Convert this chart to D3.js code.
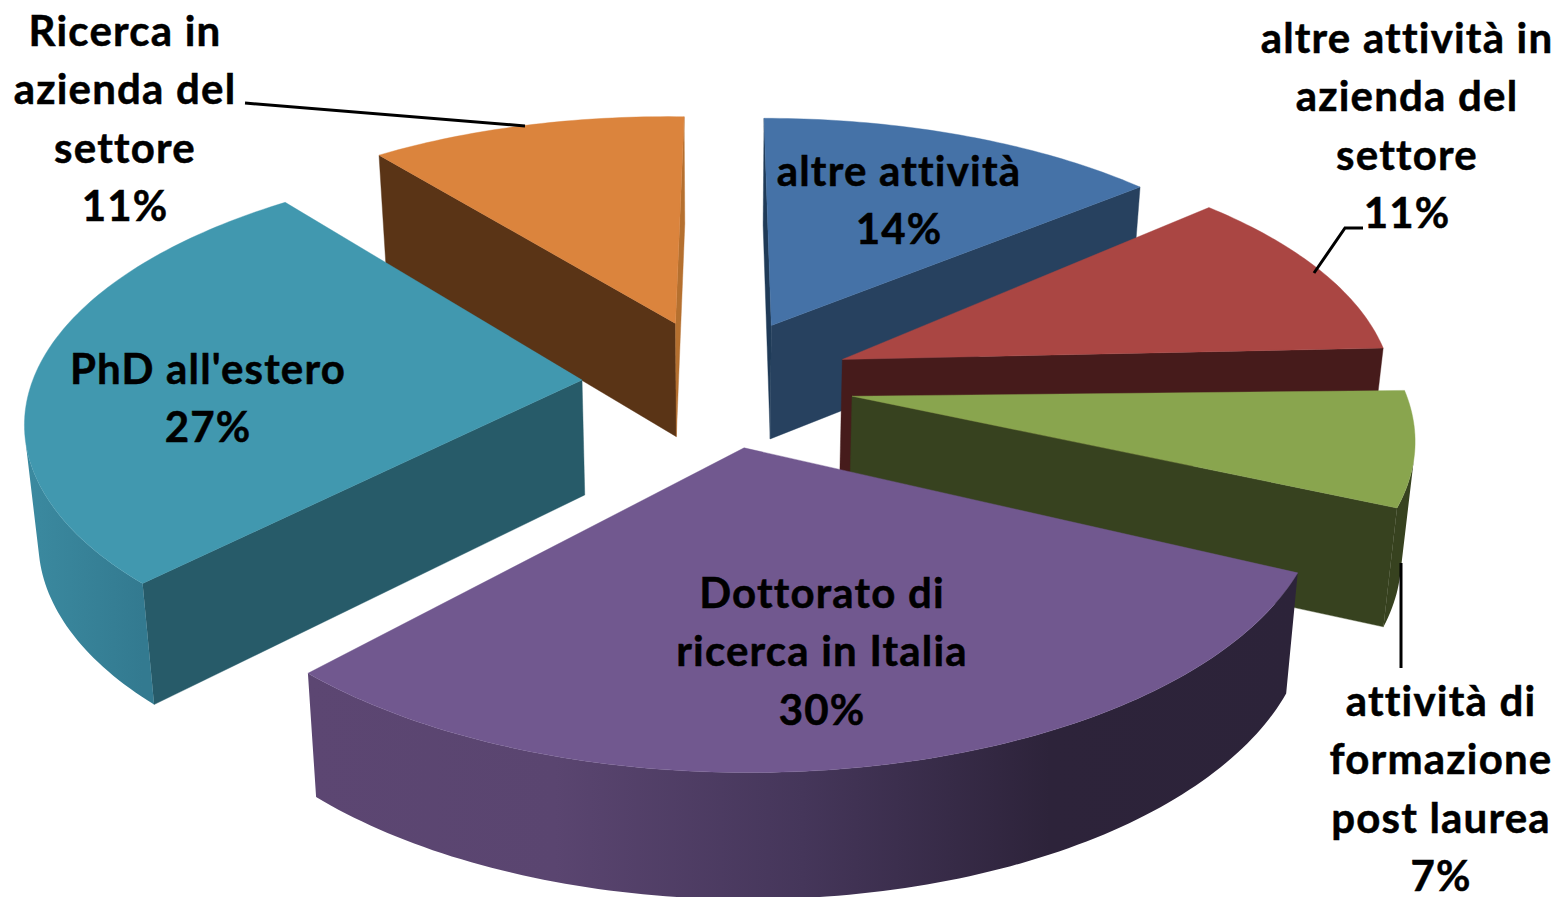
<!DOCTYPE html>
<html><head><meta charset="utf-8">
<script src="https://cdn.jsdelivr.net/npm/d3@7/dist/d3.min.js"></script>
<style>html,body{margin:0;padding:0;background:#fff;overflow:hidden}svg{display:block}</style>
</head><body><svg id="c" width="1560" height="897"></svg>
<script>
// data
const categories = [
  ["altre attività"],
  ["altre attività in","azienda del","settore"],
  ["attività di","formazione","post laurea"],
  ["Dottorato di","ricerca in Italia"],
  ["PhD all'estero"],
  ["Ricerca in","azienda del","settore"]
];
const values = [14, 11, 7, 30, 27, 11];
// styles
const topColors  = ["#4572A7","#AA4643","#89A54E","#71588F","#4198AF","#DB843D"];
const startWall  = ["#1F3A57","#461B1B","#37421F","#5C4672","#275B69","#5A3416"];
const endWall    = ["#27415F","#461B1B","#37421F","#2C2339","#275B69","#B5702F"];
const rimStops   = [
  ["#27415F","#27415F"],["#461B1B","#461B1B"],["#37421F","#37421F"],
  ["#5C4672","#5A4570","#45365A","#2D233A","#2C2339"],
  ["#3B8AA0","#337A90"],["#B5702F","#B5702F"]
];
const drawOrder = [5,0,1,2,4,3];
// layout
const labelPos = [[899,186],[1407,53],[1441,716],[822,608],[208,384],[125,46]];
const lineH = 58.4;
const leaders = [
  [[245,103],[525,126]],
  [[1363,228],[1345,228],[1314,273]],
  [[1401,563],[1401,668]]
];
const cx=718, cy=381, B=548, A=254, persp=0.15, explode=0.254;
const bx=0.98, dropY=115, dropK=0.03;
// small per-slice screen adjustments of the exploded pieces: [dx, dy, roll in degrees]
const sliceNudge = [[-4,1,0],[-5,0,-1.2],[-3,1,-0.6],[-1,1,0],[3,1,0.5],[3,1,0.8]];

const project = ([X,Y]) => { const s=1/(1-persp*Y); return [cx+B*X*s, cy+A*Y*s]; };
const lower = ([x,y]) => [cx+(x-cx)*bx, y+dropY+dropK*(y-cy)];
const quadArea = (a,b) => d3.polygonArea([a,b,lower(b),lower(a)]);
const line = d3.line();

const svg = d3.select("#c");
const defs = svg.append("defs");
const gChart = svg.append("g");
const arcs = d3.pie().sort(null).value(d=>d)(values);

function geom(d,i){
  const mid=(d.startAngle+d.endAngle)/2;
  const o=[explode*Math.sin(mid), -explode*Math.cos(mid)];
  const n=Math.max(2,Math.ceil((d.endAngle-d.startAngle)/(Math.PI/180)));
  const a0=project(o), [dx,dy,roll]=sliceNudge[i], r=roll*Math.PI/180;
  const adj=([x,y])=>{
    const u=x-a0[0], v=y-a0[1];
    return [a0[0]+dx+u*Math.cos(r)-v*Math.sin(r), a0[1]+dy+u*Math.sin(r)+v*Math.cos(r)];
  };
  const rim=d3.range(n+1).map(k=>{
    const t=d.startAngle+(d.endAngle-d.startAngle)*k/n;
    return adj(project([o[0]+Math.sin(t), o[1]-Math.cos(t)]));
  });
  return {apex:adj(a0), rim};
}
const geoms = arcs.map(geom);

drawOrder.forEach(i=>{
  const g=geoms[i], G=gChart.append("g");
  const wall=(a,b,col)=>{
    if(quadArea(a,b)>0) G.append("path").attr("d",line([a,b,lower(b),lower(a)])+"Z").attr("fill",col).attr("stroke",col).attr("stroke-width",0.4);
  };
  wall(g.apex,g.rim[0],startWall[i]);
  let run=[];
  const runs=[];
  for(let k=0;k<g.rim.length-1;k++){
    if(quadArea(g.rim[k],g.rim[k+1])>0){ if(!run.length) run.push(g.rim[k]); run.push(g.rim[k+1]); }
    else if(run.length){ runs.push(run); run=[]; }
  }
  if(run.length) runs.push(run);
  runs.forEach((r,j)=>{
    const xs=r.map(p=>p[0]), id=`rim${i}_${j}`;
    const lg=defs.append("linearGradient").attr("id",id).attr("gradientUnits","userSpaceOnUse")
      .attr("x1",d3.min(xs)).attr("x2",d3.max(xs)).attr("y1",0).attr("y2",0);
    const stops=rimStops[i];
    stops.forEach((c,q)=>lg.append("stop").attr("offset",q/(stops.length-1)).attr("stop-color",c));
    G.append("path").attr("d",line(r.concat(r.map(lower).reverse()))+"Z").attr("fill",`url(#${id})`);
  });
  wall(g.rim[g.rim.length-1],g.apex,endWall[i]);
  G.append("path").attr("d",line([g.apex,...g.rim])+"Z").attr("fill",topColors[i]).attr("stroke",topColors[i]).attr("stroke-width",0.4);
});

leaders.forEach(l=>{
  svg.append("path").attr("d",line(l)).attr("fill","none").attr("stroke","#000").attr("stroke-width",3);
});

categories.forEach((lines,i)=>{
  const t=svg.append("text").attr("text-anchor","middle")
    .style("font-family","Lato, 'Open Sans', sans-serif").style("font-weight",700)
    .style("font-size","42px").style("letter-spacing","1.2px").style("font-variant-ligatures","none")
    .attr("fill","#000").attr("stroke","#000").attr("stroke-width",0.5);
  [...lines,`${values[i]}%`].forEach((s,k)=>{
    t.append("tspan").attr("x",labelPos[i][0]).attr("y",labelPos[i][1]+k*lineH).text(s);
  });
});
</script></body></html>
